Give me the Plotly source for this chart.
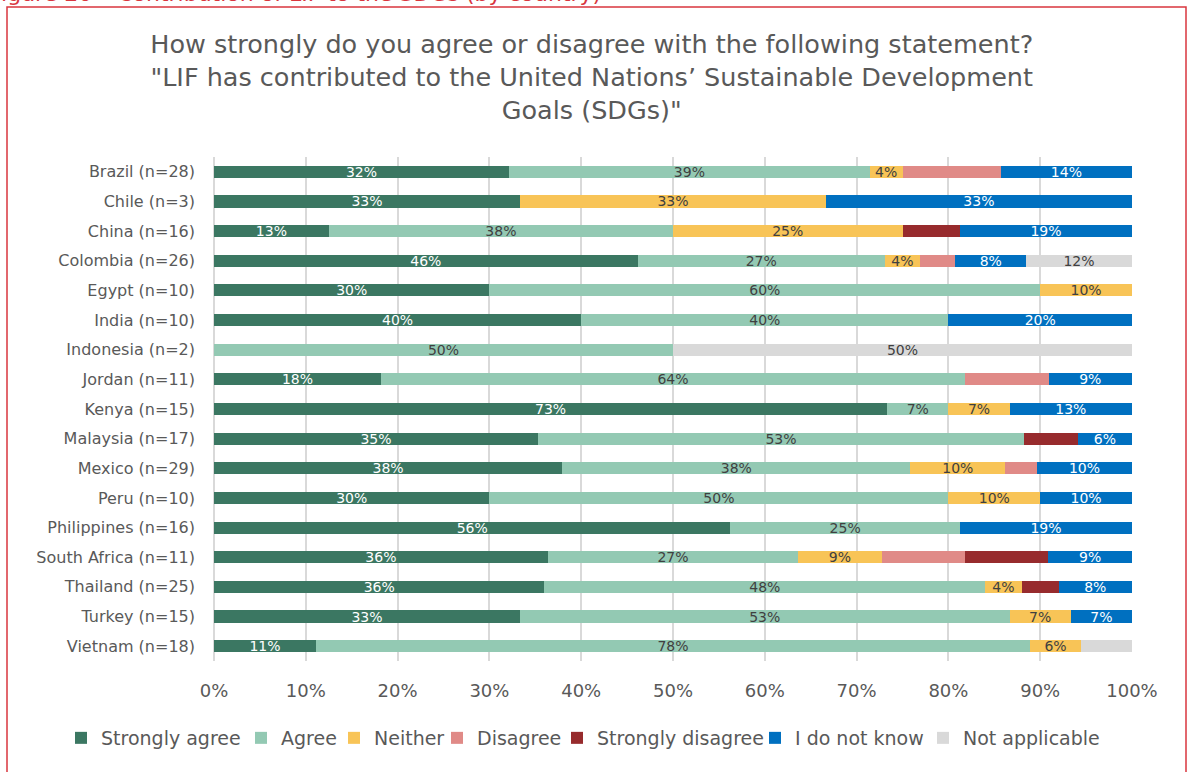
import plotly.graph_objects as go

countries = ["Brazil (n=28)", "Chile (n=3)", "China (n=16)", "Colombia (n=26)", "Egypt (n=10)",
             "India (n=10)", "Indonesia (n=2)", "Jordan (n=11)", "Kenya (n=15)", "Malaysia (n=17)",
             "Mexico (n=29)", "Peru (n=10)", "Philippines (n=16)", "South Africa (n=11)",
             "Thailand (n=25)", "Turkey (n=15)", "Vietnam (n=18)"]

strongly_agree    = [32.14, 33.33, 12.5, 46.15, 30, 40, 0, 18.18, 73.33, 35.29, 37.93, 30, 56.25, 36.36, 36, 33.33, 11.11]
agree             = [39.29, 0, 37.5, 26.92, 60, 40, 50, 63.64, 6.67, 52.94, 37.93, 50, 25, 27.27, 48, 53.33, 77.78]
neither           = [3.57, 33.33, 25, 3.85, 10, 0, 0, 0, 6.67, 0, 10.34, 10, 0, 9.09, 4, 6.67, 5.56]
disagree          = [10.71, 0, 0, 3.85, 0, 0, 0, 9.09, 0, 0, 3.45, 0, 0, 9.09, 0, 0, 0]
strongly_disagree = [0, 0, 6.25, 0, 0, 0, 0, 0, 0, 5.88, 0, 0, 0, 9.09, 4, 0, 0]
do_not_know       = [14.29, 33.33, 18.75, 7.69, 0, 20, 0, 9.09, 13.33, 5.88, 10.34, 10, 18.75, 9.09, 8, 6.67, 0]
not_applicable    = [0, 0, 0, 11.54, 0, 0, 50, 0, 0, 0, 0, 0, 0, 0, 0, 0, 5.56]

tick_values = [0, 10, 20, 30, 40, 50, 60, 70, 80, 90, 100]
tick_labels = ["0%", "10%", "20%", "30%", "40%", "50%", "60%", "70%", "80%", "90%", "100%"]

# name, values, bar colour, label colour, show labels, legend entry width
series = [
    ("Strongly agree", strongly_agree, "#3B7762", "#FFFFFF", True, 135),
    ("Agree", agree, "#93C9B3", "#404040", True, 48),
    ("Neither", neither, "#F8C457", "#404040", True, 58),
    ("Disagree", disagree, "#E08A87", "#404040", False, 75),
    ("Strongly disagree", strongly_disagree, "#972B2D", "#FFFFFF", False, 153),
    ("I do not know", do_not_know, "#0070C0", "#FFFFFF", True, 123),
    ("Not applicable", not_applicable, "#D9D9D9", "#404040", True, 137),
]
hidden_labels = {("Vietnam (n=18)", "Not applicable")}

FONT = "DejaVu Sans"
GREY = "#595959"
L, R, T, B = 214, 55, 157, 111
W, H = 1187, 772
ph = H - T - B
pw = W - L - R

fig = go.Figure()
for name, vals, color, tcol, show, lw in series:
    texts = []
    for c, v in zip(countries, vals):
        if show and v > 0 and (c, name) not in hidden_labels:
            texts.append(f"{int(v + 0.5)}%")
        else:
            texts.append("")
    fig.add_trace(go.Bar(
        name=name, y=countries, x=vals, orientation="h",
        marker=dict(color=color, line=dict(width=0)),
        text=texts, textposition="inside", insidetextanchor="middle",
        textfont=dict(family=FONT, size=14, color=tcol),
        legendwidth=lw,
        hoverinfo="skip",
    ))

fig.update_layout(
    barmode="stack", bargap=0.59,
    width=W, height=H,
    margin=dict(l=L, r=R, t=T, b=B, pad=0),
    paper_bgcolor="white", plot_bgcolor="white",
    uniformtext=dict(minsize=14, mode="show"),
    font=dict(family=FONT, color=GREY),
    title=dict(
        text="How strongly do you agree or disagree with the following statement?<br>"
             "\"LIF has contributed to the United Nations’ Sustainable Development<br>Goals (SDGs)\"",
        x=0.4985, xanchor="center", xref="container",
        y=1 - 53 / H, yanchor="top", yref="container",
        font=dict(family=FONT, size=25.5, color=GREY),
    ),
    xaxis=dict(
        range=[0, 100], tickvals=tick_values, ticktext=tick_labels,
        showgrid=True, gridcolor="#D9D9D9", gridwidth=1.5,
        zeroline=True, zerolinecolor="#D9D9D9", zerolinewidth=1.5,
        showline=False, ticks="", ticklabelstandoff=17,
        tickfont=dict(family=FONT, size=18, color=GREY),
        fixedrange=True,
    ),
    yaxis=dict(
        autorange="reversed", showgrid=False, ticks="", ticklabelstandoff=18,
        tickfont=dict(family=FONT, size=16, color=GREY),
        fixedrange=True,
    ),
    legend=dict(
        orientation="h", x=(61 - L) / pw, xanchor="left",
        y=(H - B - 738) / ph, yanchor="middle",
        font=dict(family=FONT, size=19, color=GREY),
        traceorder="normal", itemwidth=30,
    ),
    showlegend=True,
)

# outer chart frame (red border)
fig.add_shape(type="rect", xref="paper", yref="paper",
              x0=(7 - L) / pw, x1=(1186 - L) / pw,
              y0=(H - B - 790) / ph, y1=(H - B - 7) / ph,
              line=dict(color="#D9363E", width=1.5), fillcolor="rgba(0,0,0,0)", layer="below")

# caption above the frame, partly cut by the page edge
fig.add_annotation(text="Figure 20 – Contribution of LIF to the SDGs (by country)",
                   xref="paper", yref="paper", x=(-12 - L) / pw, xanchor="left",
                   y=(H - B - 8) / ph, yanchor="bottom", showarrow=False,
                   font=dict(family=FONT, size=22, color="#D9363E"))

fig.write_html("out.html")
